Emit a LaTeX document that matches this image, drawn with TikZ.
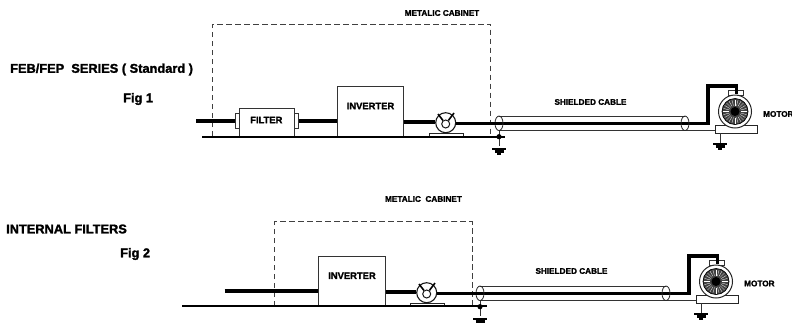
\documentclass[tikz,border=0pt]{standalone}
\usepackage{fontspec}
\usetikzlibrary{shapes.geometric}
\setmainfont[BoldFeatures={FakeBold=1.6}]{Liberation Sans}
\tikzset{
  thickwire/.style={line width=4pt},
  midwire/.style={line width=3.2pt},
  frame/.style={draw=black!80,line width=1pt,fill=white},
  thin part/.style={draw=black!80,line width=0.9pt},
  cabinet/.style={draw=black!75,line width=0.7pt,dash pattern=on 5.5pt off 3.5pt},
  earthbar/.style={line width=2.4pt},
  groundline/.style={line width=2.2pt},
  lab/.style={font=\bfseries\fontsize{8.2}{9}\selectfont,inner sep=0pt,anchor=center},
  head/.style={font=\bfseries\fontsize{12.8}{14}\selectfont,inner sep=0pt,anchor=west},
  boxlab/.style={font=\bfseries\fontsize{9.4}{10}\selectfont,inner sep=0pt,anchor=center},
  shieldend/.style={ellipse,draw=black!85,line width=0.8pt,minimum width=8pt,minimum height=14.5pt,inner sep=0pt},
}
% drive chain: coupler, cable, motor
\newcommand{\drivechain}{%
  % cable tube
  \coordinate (ctl) at (499,116); \coordinate (ctr) at (685,116);
  \coordinate (cbl) at (499,130.5); \coordinate (cbr) at (685,130.5);
  \draw[thin part] (ctl) -- (ctr);
  \draw[thin part] (cbl) -- (cbr);
  \coordinate (basel) at (716,130.5);
  \draw[thin part] (cbr) -- (basel);
  % motor
  \node[frame,line width=0.8pt,minimum width=15pt,minimum height=5pt,inner sep=0pt] (tbox) at (735.5,93) {};
  \node[draw=black!85,line width=0.8pt,fill=white,rectangle,minimum width=41.5pt,minimum height=8pt,inner sep=0pt] (base) at (736.5,129) {};
  \node[circle,draw=black!85,line width=1pt,fill=white,minimum size=33pt,inner sep=0pt] (motor) at (735,111.5) {};
  \node[circle,draw=black,line width=0.7pt,fill=black!75,minimum size=26pt,inner sep=0pt] (rotor) at (735,111.5) {};
  \foreach \a in {0,15,...,345}{\draw[white,line width=0.3pt] (735,111.5) ++(\a:6) -- ++(\a:6);}
  \node[circle,fill=black,minimum size=9pt,inner sep=0pt] (hub) at (735,111.5) {};
  % cable core
  \coordinate (cb1) at (708,123.3); \coordinate (cb2) at (708,86); \coordinate (cb3) at (736.5,86); \coordinate (cb4) at (736.5,94);
  \coordinate (cl) at (499,123.3);\coordinate (cr) at (685,123.3);
  \draw[midwire,line join=miter] (cl) -- (cb1) -- (cb2) -- (cb3) -- (cb4);
  \node[shieldend] (eL) at (cl) {};
  \node[shieldend] (eR) at (cr) {};
  % motor ground
  \coordinate (mg) at (720,143);
  \draw[thin part] (720,133) -- (mg);
  \draw[earthbar] (713,144) -- (727,144);
  \draw[earthbar] (715.5,146.5) -- (724.5,146.5);
  \draw[earthbar] (718,149) -- (722,149);
  % coupler / disconnect
  \node[draw=black!85,line width=0.8pt,fill=white,minimum width=34pt,minimum height=2.6pt,inner sep=0pt] (mbase) at (446,134.7) {};
  \node[circle,draw=black!90,line width=1.1pt,fill=white,minimum size=20pt,inner sep=0pt] (meter) at (445.7,122.7) {};
  \node[circle,draw=black!90,line width=1pt,fill=white,minimum size=8pt,inner sep=0pt] (mhub) at (445.7,124) {};
  \draw[line width=1.6pt] (mhub) -- (438,114);
  \draw[line width=1.6pt] (mhub) -- (454,113);
  \draw[midwire] (meter.east |- cl) -- (cl);
  % drain ground
  \coordinate (dg) at (499,146);
  \draw[thin part] (eL.south) -- (dg);
  \fill (499,136.7) circle (2.6pt);
  \draw[earthbar] (492,149) -- (506,149);
  \draw[earthbar] (494.5,151.5) -- (503.5,151.5);
  \draw[earthbar] (497,154) -- (501,154);
}
\begin{document}
\begin{tikzpicture}[x=1pt,y=-1pt]
\useasboundingbox (0,0) rectangle (792,322);
\fill[white] (0,0) rectangle (792,322);
% ---------- Fig 1
\node[head] (t1) at (10,69.5) {FEB/FEP\ \ SERIES ( Standard )};
\node[head] (f1) at (123,99) {Fig 1};
\node[lab] (mc1) at (442,13) {METALIC CABINET};
\node[lab] (sc1) at (590.5,102) {SHIELDED CABLE};
\node[lab,anchor=west] (mo1) at (763,114) {MOTOR};
\coordinate (cab1a) at (212,24); \coordinate (cab1b) at (490.5,136);
\draw[cabinet] (cab1a |- cab1b) -- (cab1a) -- (cab1b |- cab1a) -- (cab1b);
\coordinate (g1a) at (202,136.7); \coordinate (g1b) at (505,136.7);
\coordinate (in1) at (196,121);
\node[frame,minimum width=4.5pt,minimum height=15pt,inner sep=0pt] (pl) at (238,121) {};
\node[frame,minimum width=4.5pt,minimum height=15pt,inner sep=0pt] (pr) at (296.7,121) {};
\node[frame,minimum width=54.5pt,minimum height=27.5pt,inner sep=0pt] (filter) at (267.2,122.5) {};
\node[boxlab] at (266.3,120) {FILTER};
\node[frame,minimum width=66pt,minimum height=49.5pt,inner sep=0pt] (inv1) at (370.7,111.5) {};
\node[boxlab] at (370.5,106) {INVERTER};
\draw[thickwire] (in1) -- (pl.west);
\draw[thickwire] (pr.east) -- (pr.east -| inv1.west);
\begin{scope}[name prefix=a-]
\drivechain
\end{scope}
\draw[thickwire] (inv1.east |- 0,122.3) -- (a-meter.west |- 0,122.3);
\draw[groundline] (g1a) -- (g1b);
% ---------- Fig 2
\node[head] (t2) at (6,229) {INTERNAL FILTERS};
\node[head] (f2) at (120,254) {Fig 2};
\node[lab] (mc2) at (423.5,199) {METALIC\ \ CABINET};
\node[lab] (sc2) at (571.5,271) {SHIELDED CABLE};
\node[lab,anchor=west] (mo2) at (744,283.5) {MOTOR};
\coordinate (cab2a) at (274.7,221.7); \coordinate (cab2b) at (472,306);
\draw[cabinet] (cab2a |- cab2b) -- (cab2a) -- (cab2b |- cab2a) -- (cab2b);
\coordinate (g2a) at (182,306); \coordinate (g2b) at (487,306);
\coordinate (in2) at (224.7,290.7);
\node[frame,minimum width=67pt,minimum height=50pt,inner sep=0pt] (inv2) at (352.2,281) {};
\node[boxlab] at (352,275.7) {INVERTER};
\draw[thickwire] (in2) -- (in2 -| inv2.west);
\begin{scope}[shift={(-19,170)},name prefix=b-]
\drivechain
\end{scope}
\draw[thickwire] (inv2.east |- 0,292) -- (b-meter.west |- 0,292);
\draw[groundline] (g2a) -- (g2b);
\end{tikzpicture}
\end{document}
